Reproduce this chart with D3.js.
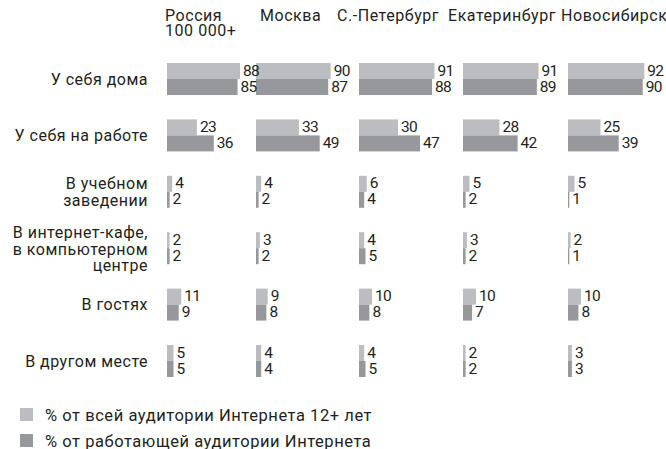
<!DOCTYPE html>
<html>
<head>
<meta charset="utf-8">
<script src="https://cdn.jsdelivr.net/npm/d3@7"></script>
<style>
  body { margin: 0; background: #fff; }
  text { font-family: Roboto, "Noto Sans", sans-serif; fill: #231f20; }
</style>
</head>
<body>
<div id="chart"></div>
<script>
// cities (column headers, may have two lines)
var cities = ["Россия", "Москва", "С.-Петербург", "Екатеринбург", "Новосибирск"];
var cityHeaders = [["Россия", "100 000+"], ["Москва"], ["С.-Петербург"], ["Екатеринбург"], ["Новосибирск"]];

// places (row labels)
var places = ["home", "work", "school", "cafe", "guests", "other"];
var placeLabels = [
    ["У себя дома"],
    ["У себя на работе"],
    ["В учебном", "заведении"],
    ["В интернет-кафе,", "в компьютерном", "центре"],
    ["В гостях"],
    ["В другом месте"]
];

// % of whole internet audience 12+ (rows = places, cols = cities)
var allAudience = [
    [88, 90, 91, 91, 92],
    [23, 33, 30, 28, 25],
    [4, 4, 6, 5, 5],
    [2, 3, 4, 3, 2],
    [11, 9, 10, 10, 10],
    [5, 4, 4, 2, 3]
];
// % of working internet audience
var workingAudience = [
    [85, 87, 88, 89, 90],
    [36, 49, 47, 42, 39],
    [2, 2, 4, 2, 1],
    [2, 2, 5, 2, 1],
    [9, 8, 8, 7, 8],
    [5, 4, 5, 2, 3]
];

var legendLabels = ["% от всей аудитории Интернета 12+ лет", "% от работающей аудитории Интернета"];
var colors = ["#bcbdc0", "#97989b"];

var width = 666, height = 449;
var barH = 16;

var svg = d3.select("#chart")
    .append("svg")
        .attr("width", width)
        .attr("height", height);

// column positions of the bars and of the header texts
var xCol = d3.scaleOrdinal().domain(cities).range([167, 256, 359, 463, 568]);
var xHead = d3.scaleOrdinal().domain(cities).range([165, 260, 337, 448, 561]);

// row positions
var yRow = d3.scaleBand()
    .domain(places)
    .range([63, 63 + 6 * 56.4]);

// the first row is drawn compressed in the original
var xBig = d3.scaleLinear().domain([0, 100]).range([0, 83]);
var xSmall = d3.scaleLinear().domain([0, 100]).range([0, 130]);
function xScale(i) { return i === 0 ? xBig : xSmall; }

// headers, one text per line
var headLines = [];
cities.forEach(function(c, j) {
    cityHeaders[j].forEach(function(line, k) {
        headLines.push({city: c, k: k, text: line});
    });
});
svg.append("g").selectAll("text")
    .data(headLines)
    .enter()
    .append("text")
        .attr("x", function(d) { return xHead(d.city); })
        .attr("y", function(d) { return 21 + d.k * 14.5; })
        .style("font-size", "16px")
        .style("letter-spacing", "0.55px")
        .text(function(d) { return d.text; });

// row labels, one text per line
var labelLines = [];
places.forEach(function(p, i) {
    var lines = placeLabels[i];
    var center = yRow(p) + barH;
    var first = center + 5.5 - (lines.length - 1) * 8.25 + (lines.length > 2 ? 1 : 0);
    lines.forEach(function(line, k) {
        labelLines.push({y: first + k * 16.5, text: line});
    });
});
svg.append("g").selectAll("text")
    .data(labelLines)
    .enter()
    .append("text")
        .attr("text-anchor", "end")
        .attr("x", 148)
        .attr("y", function(d) { return d.y; })
        .style("font-size", "16px")
        .style("letter-spacing", "0.5px")
        .text(function(d) { return d.text; });

// bars + values
var cells = [];
places.forEach(function(p, i) {
    cities.forEach(function(c, j) {
        cells.push({row: i, place: p, city: c, s: 0, v: allAudience[i][j]});
        cells.push({row: i, place: p, city: c, s: 1, v: workingAudience[i][j]});
    });
});

svg.append("g").selectAll("rect")
    .data(cells)
    .enter()
    .append("rect")
        .attr("x", function(d) { return xCol(d.city); })
        .attr("y", function(d) { return yRow(d.place) + d.s * barH; })
        .attr("width", function(d) { return xScale(d.row)(d.v); })
        .attr("height", barH)
        .style("fill", function(d) { return colors[d.s]; });

svg.append("g").selectAll("text")
    .data(cells)
    .enter()
    .append("text")
        .attr("x", function(d) { return xCol(d.city) + xScale(d.row)(d.v) + 3; })
        .attr("y", function(d) { return yRow(d.place) + d.s * barH + 12.5; })
        .style("font-size", "15.5px")
        .style("letter-spacing", "-0.7px")
        .text(function(d) { return d.v; });

// legend
var legend = svg.append("g").selectAll("g")
    .data(legendLabels)
    .enter()
    .append("g")
        .attr("transform", function(d, i) { return "translate(20," + (408 + i * 26) + ")"; });

legend.append("rect")
    .attr("width", 13)
    .attr("height", 13)
    .style("fill", function(d, i) { return colors[i]; });

legend.append("text")
    .attr("x", 25)
    .attr("y", 12.5)
    .style("font-size", "16.5px")
    .style("letter-spacing", "0.55px")
    .text(function(d) { return d; });
</script>
</body>
</html>
